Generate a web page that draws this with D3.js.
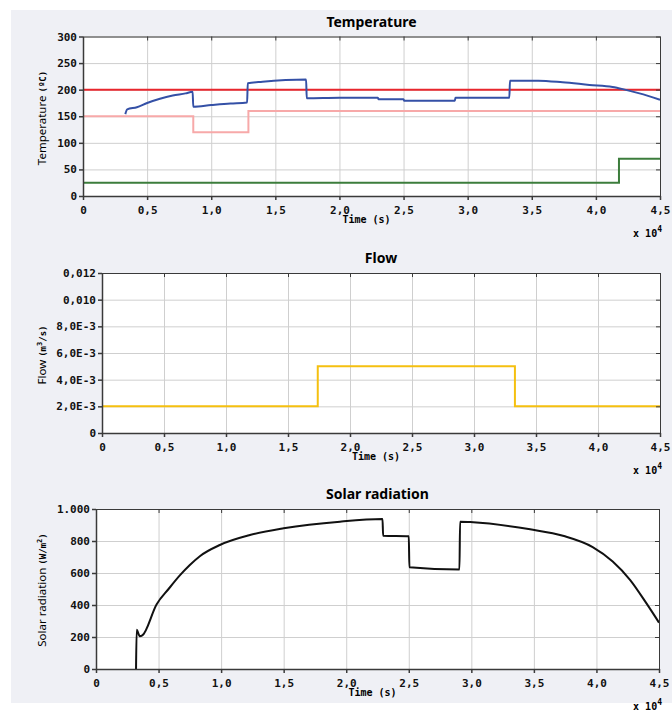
<!DOCTYPE html>
<html>
<head>
<meta charset="utf-8">
<script src="https://cdn.jsdelivr.net/npm/d3@7"></script>
<style>
  body { margin: 0; background: #fff; }
  svg { display: block; }
  .tick text { font-family: "DejaVu Sans Mono", monospace; font-weight: bold; font-size: 11px; fill: #111; }
</style>
</head>
<body>
<div id="chart-area"></div>
<script>
// time axis (seconds) shared by all three panels
var timeTicks = [0, 5000, 10000, 15000, 20000, 25000, 30000, 35000, 40000, 45000];
var timeLabels = ["0", "0,5", "1,0", "1,5", "2,0", "2,5", "3,0", "3,5", "4,0", "4,5"];

// temperature panel
var tempTicks = [0, 50, 100, 150, 200, 250, 300];
var tempLabels = ["0", "50", "100", "150", "200", "250", "300"];
var tempBlue = [[3300,154],[3450,163],[4200,167],[5000,175],[6000,183],[7000,189],[8000,193],[8550,196],
  [8600,168],[10000,171],[11500,174],[12800,176],[12850,212],[14000,215],[15800,218],[17400,219],
  [17450,184],[20000,185],[23000,185],[23050,182],[25000,182],[25050,179],[29000,179],[29050,185],
  [33250,185],[33300,217],[35500,217],[37400,214],[39500,209],[41300,205],[42100,201],[43400,193],[45000,181]];
var tempRed = [[0,200],[45000,200]];
var tempPink = [[0,150],[8600,120],[12900,160],[45000,160]];
var tempGreen = [[0,25],[41800,70],[45000,70]];

// flow panel
var flowTicks = [0, 0.002, 0.004, 0.006, 0.008, 0.010, 0.012];
var flowLabels = ["0", "2,0E-3", "4,0E-3", "6,0E-3", "8,0E-3", "0,010", "0,012"];
var flowYellow = [[0,0.002],[17400,0.005],[33300,0.002],[45000,0.002]];

// solar radiation panel
var solarTicks = [0, 200, 400, 600, 800, 1000];
var solarLabels = ["0", "200", "400", "600", "800", "1.000"];
var solarBlack = [[3200,0],[3250,245],[3500,205],[3700,210],[4850,405],[5800,500],[6700,585],[7500,650],
  [8300,705],[9900,775],[12300,837],[15000,879],[19500,921],[22900,937],[22950,833],[25000,830],
  [25050,636],[29050,622],[29100,921],[29900,918],[34700,873],[37400,831],[39700,762],[41300,672],
  [42700,556],[44000,410],[45000,290]];

var W = 672, H = 713;
var svg = d3.select("#chart-area").append("svg")
  .attr("width", W)
  .attr("height", H);

// grey backdrop
svg.append("rect")
  .attr("x", 11).attr("y", 10)
  .attr("width", W - 11).attr("height", 693)
  .attr("fill", "#eff0f5");

function panel(p) {
  var width = p.x1 - p.x0, height = p.y1 - p.y0;
  var g = svg.append("g").attr("transform", "translate(" + p.x0 + "," + p.y0 + ")");

  var x = d3.scaleLinear().domain([0, 45000]).range([0, width]);
  var y = d3.scaleLinear().domain(p.yDomain).range([height, 0]);

  g.append("rect").attr("width", width).attr("height", height).attr("fill", "#fff");

  // grid
  g.append("g")
    .call(d3.axisBottom(x).tickValues(timeTicks).tickSize(height).tickFormat(""))
    .call(s => s.select(".domain").remove())
    .selectAll("line").attr("stroke", "#cfcfcf");
  g.append("g")
    .call(d3.axisLeft(y).tickValues(p.yTicks).tickSize(-width).tickFormat(""))
    .call(s => s.select(".domain").remove())
    .selectAll("line").attr("stroke", "#cfcfcf");

  // data lines
  p.series.forEach(function(s) {
    var line = d3.line()
      .x(d => x(d[0]))
      .y(d => y(d[1]))
      .curve(s.step ? d3.curveStepAfter : d3.curveMonotoneX);
    g.append("path")
      .datum(s.data)
      .attr("fill", "none")
      .attr("stroke", s.color)
      .attr("stroke-width", 2)
      .attr("d", line);
  });

  // frame + ticks
  var frame = "#3a3a3a";
  g.append("g")
    .call(d3.axisTop(x).tickValues(timeTicks).tickSizeInner(-4).tickSizeOuter(0).tickFormat(""))
    .call(s => s.selectAll("path,line").attr("stroke", frame));
  g.append("g")
    .attr("transform", "translate(" + width + ",0)")
    .call(d3.axisRight(y).tickValues(p.yTicks).tickSizeInner(-4).tickSizeOuter(0).tickFormat(""))
    .call(s => s.selectAll("path,line").attr("stroke", frame));
  g.append("g")
    .attr("transform", "translate(0," + height + ")")
    .call(d3.axisBottom(x).tickValues(timeTicks).tickSizeInner(4).tickSizeOuter(0)
      .tickPadding(6).tickFormat((d, i) => timeLabels[i]))
    .call(s => s.selectAll("path,line").attr("stroke", frame).attr("stroke-width", 1.5));
  g.append("g")
    .call(d3.axisLeft(y).tickValues(p.yTicks).tickSizeInner(4).tickSizeOuter(0)
      .tickPadding(2).tickFormat((d, i) => p.yLabels[i]))
    .call(s => s.selectAll("path,line").attr("stroke", frame).attr("stroke-width", 1.5));

  // title
  svg.append("text")
    .attr("x", (p.x0 + p.x1) / 2).attr("y", p.y0 - 10)
    .attr("text-anchor", "middle")
    .style("font-family", "'Noto Sans', sans-serif")
    .style("font-weight", "bold")
    .style("font-size", "14px")
    .text(p.title);

  // x label
  svg.append("text")
    .attr("x", (p.x0 + p.x1) / 2 - 5).attr("y", p.y1 + 27)
    .attr("text-anchor", "middle")
    .style("font-family", "'DejaVu Sans Mono', monospace")
    .style("font-weight", "bold")
    .style("font-size", "10px")
    .text("Time (s)");

  // x exponent
  var ex = svg.append("text")
    .attr("x", 662).attr("y", p.y1 + 41)
    .attr("text-anchor", "end")
    .style("font-family", "'DejaVu Sans Mono', monospace")
    .style("font-weight", "bold")
    .style("font-size", "10px");
  ex.append("tspan").text("x 10");
  ex.append("tspan").attr("dy", -5).style("font-size", "8px").text("4");

  // y label
  var yl = svg.append("text")
    .attr("transform", "translate(46," + p.yLabelY + ") rotate(-90)")
    .attr("text-anchor", "middle")
    .style("font-family", "'Noto Sans', sans-serif")
    .style("font-size", "11.5px");
  yl.append("tspan").text(p.yName + " ");
  var u = yl.append("tspan")
    .style("font-family", "'DejaVu Sans Mono', monospace")
    .style("font-weight", "bold")
    .style("font-size", "9px");
  u.append("tspan").text(p.unit[0]);
  if (p.unit[1]) {
    u.append("tspan").attr("dy", -4).style("font-size", "7px").text(p.unit[1]);
    u.append("tspan").attr("dy", 4).text(p.unit[2]);
  }
}

panel({
  x0: 83, x1: 660, y0: 36.5, y1: 196,
  yDomain: [0, 300], yTicks: tempTicks, yLabels: tempLabels,
  title: "Temperature", yName: "Temperature", unit: ["(ºC)"], yLabelY: 118,
  series: [
    { data: tempGreen, color: "#3c7d3c", step: true },
    { data: tempPink, color: "#f7a9a9", step: true },
    { data: tempRed, color: "#e8262d", step: false },
    { data: tempBlue, color: "#3450a6", step: false }
  ]
});

panel({
  x0: 102, x1: 660, y0: 273, y1: 433,
  yDomain: [0, 0.012], yTicks: flowTicks, yLabels: flowLabels,
  title: "Flow", yName: "Flow", unit: ["(m", "3", "/s)"], yLabelY: 355,
  series: [
    { data: flowYellow, color: "#f5c010", step: true }
  ]
});

panel({
  x0: 96, x1: 659, y0: 509, y1: 669,
  yDomain: [0, 1000], yTicks: solarTicks, yLabels: solarLabels,
  title: "Solar radiation", yName: "Solar radiation", unit: ["(W/m", "2", ")"], yLabelY: 590,
  series: [
    { data: solarBlack, color: "#111", step: false }
  ]
});
</script>
</body>
</html>
